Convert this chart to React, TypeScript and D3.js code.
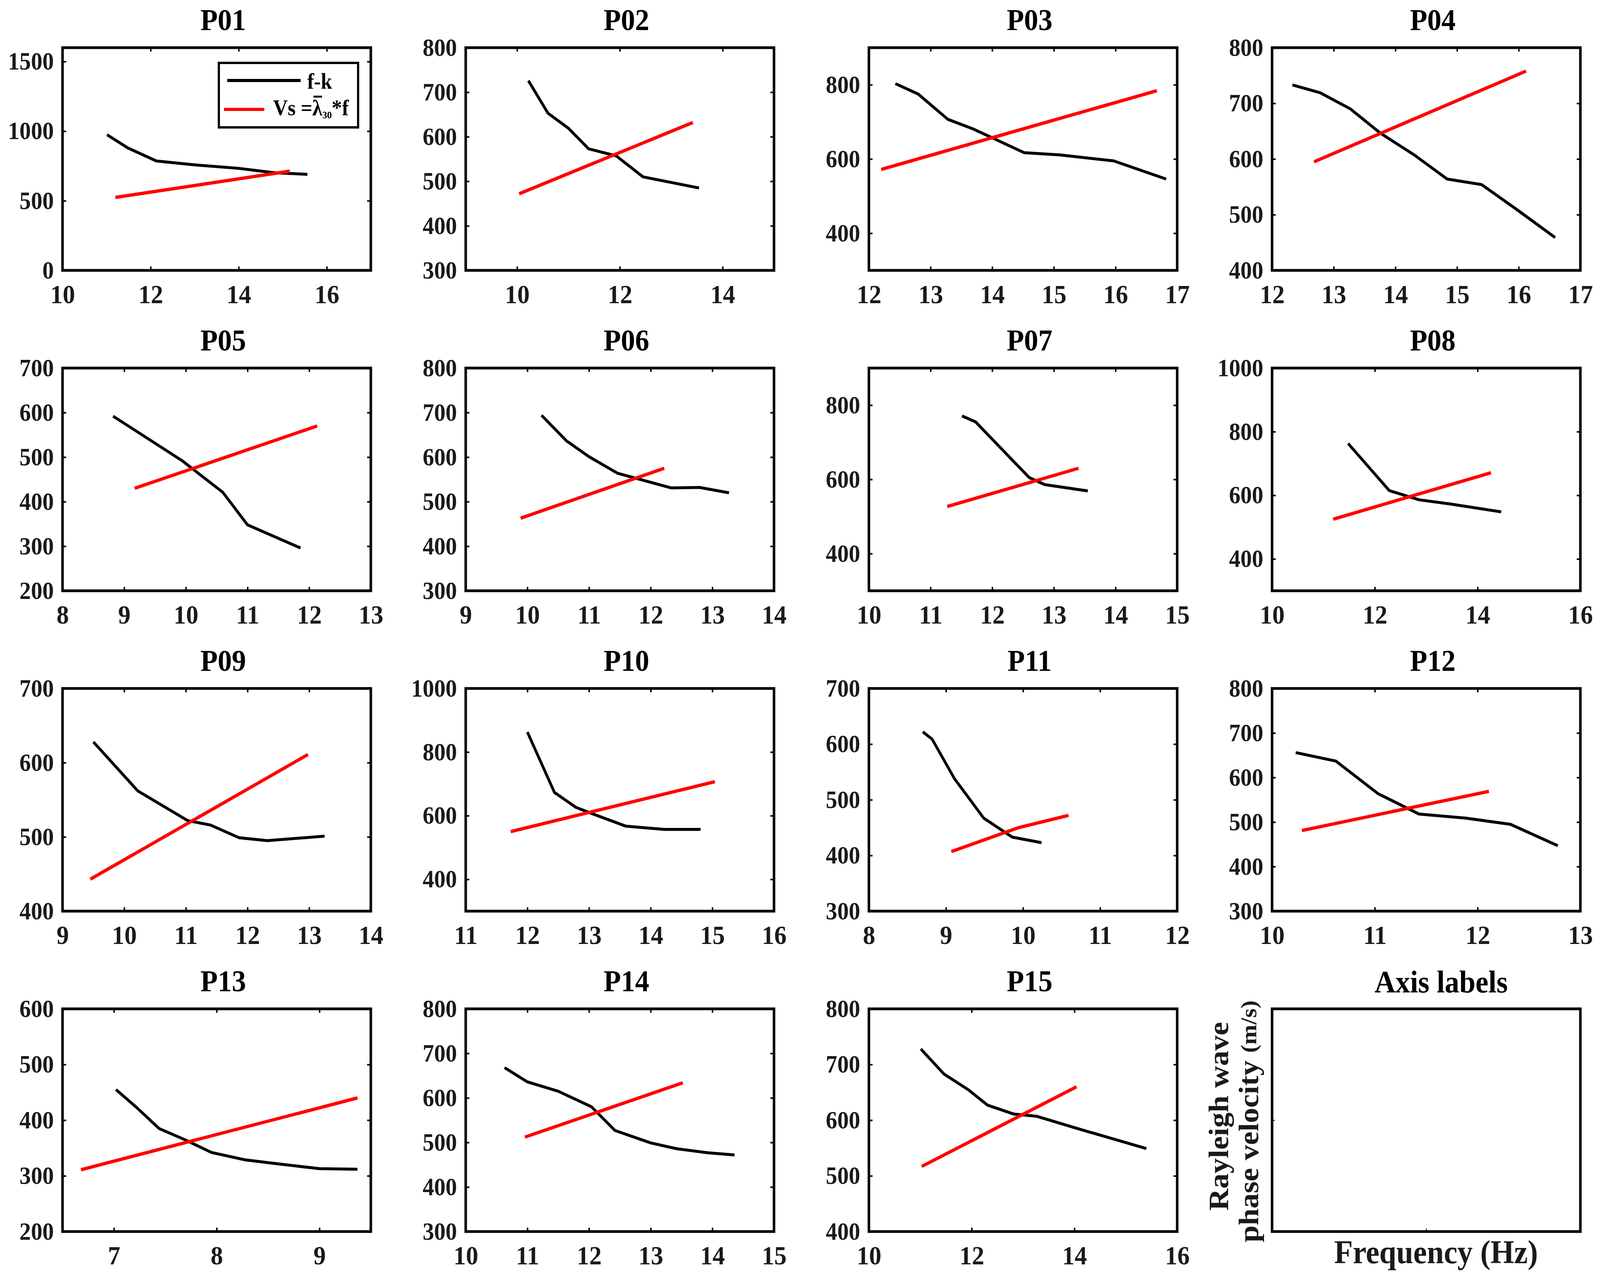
import React, { useEffect, useRef } from 'react'
import * as d3 from 'd3'

const panelNames = ['P01', 'P02', 'P03', 'P04', 'P05', 'P06', 'P07', 'P08', 'P09', 'P10', 'P11', 'P12', 'P13', 'P14', 'P15']

const xDomains: [number, number][] = [
  [10, 17], [9, 15], [12, 17], [12, 17],
  [8, 13], [9, 14], [10, 15], [10, 16],
  [9, 14], [11, 16], [8, 12], [10, 13],
  [6.5, 9.5], [10, 15], [10, 16],
]

const yDomains: [number, number][] = [
  [0, 1600], [300, 800], [300, 900], [400, 800],
  [200, 700], [300, 800], [300, 900], [300, 1000],
  [400, 700], [300, 1000], [300, 700], [300, 800],
  [200, 600], [300, 800], [400, 800],
]

const xTickValues = [
  [10, 12, 14, 16], [10, 12, 14], [12, 13, 14, 15, 16, 17], [12, 13, 14, 15, 16, 17],
  [8, 9, 10, 11, 12, 13], [9, 10, 11, 12, 13, 14], [10, 11, 12, 13, 14, 15], [10, 12, 14, 16],
  [9, 10, 11, 12, 13, 14], [11, 12, 13, 14, 15, 16], [8, 9, 10, 11, 12], [10, 11, 12, 13],
  [7, 8, 9], [10, 11, 12, 13, 14, 15], [10, 12, 14, 16],
]

const yTickValues = [
  [0, 500, 1000, 1500], [300, 400, 500, 600, 700, 800], [400, 600, 800], [400, 500, 600, 700, 800],
  [200, 300, 400, 500, 600, 700], [300, 400, 500, 600, 700, 800], [400, 600, 800], [400, 600, 800, 1000],
  [400, 500, 600, 700], [400, 600, 800, 1000], [300, 400, 500, 600, 700], [300, 400, 500, 600, 700, 800],
  [200, 300, 400, 500, 600], [300, 400, 500, 600, 700, 800], [400, 500, 600, 700, 800],
]

// f-k dispersion curves (frequency in Hz, phase velocity in m/s)
const fkFreq = [
  [11.01, 11.48, 12.13, 12.96, 14.0, 14.8, 15.56],
  [10.22, 10.6, 11.0, 11.39, 11.93, 12.45, 13.54],
  [12.43, 12.8, 13.28, 13.69, 14.52, 15.1, 15.97, 16.82],
  [12.33, 12.78, 13.27, 13.75, 14.31, 14.84, 15.4, 15.96, 16.59],
  [8.82, 9.94, 10.6, 11.0, 11.86],
  [10.23, 10.63, 11.0, 11.46, 12.33, 12.79, 13.27],
  [11.51, 11.73, 12.6, 12.85, 13.55],
  [11.48, 12.28, 12.86, 13.46, 14.46],
  [9.5, 10.22, 11.03, 11.4, 11.86, 12.32, 13.25],
  [12.0, 12.44, 12.79, 13.07, 13.6, 14.22, 14.81],
  [8.7, 8.82, 9.11, 9.49, 9.86, 10.24],
  [10.23, 10.62, 11.03, 11.43, 11.88, 12.32, 12.78],
  [7.02, 7.22, 7.44, 7.69, 7.95, 8.27, 8.62, 9.0, 9.37],
  [10.63, 11.0, 11.5, 12.04, 12.42, 13.0, 13.42, 13.92, 14.36],
  [11.01, 11.46, 11.93, 12.31, 12.82, 13.27, 14.06, 15.4],
]
const fkVel = [
  [975, 880, 786, 759, 733, 702, 690],
  [726, 653, 619, 573, 557, 510, 485],
  [803, 775, 707, 681, 617, 611, 595, 546],
  [733, 719, 690, 647, 607, 564, 554, 510, 459],
  [592, 492, 421, 348, 296],
  [694, 637, 601, 564, 531, 532, 520],
  [771, 755, 605, 586, 569],
  [763, 615, 586, 573, 548],
  [628, 562, 522, 516, 499, 495, 501],
  [863, 673, 626, 605, 567, 557, 557],
  [622, 609, 538, 467, 433, 423],
  [656, 637, 564, 518, 509, 495, 447],
  [455, 423, 385, 365, 342, 329, 321, 313, 312],
  [668, 636, 615, 580, 527, 499, 486, 477, 472],
  [728, 683, 655, 627, 611, 607, 585, 549],
]

// Vs = lambda30 * f lines
const vsFreq = [
  [11.2, 15.16], [10.04, 13.42], [12.2, 16.67], [12.68, 16.12],
  [9.17, 12.13], [9.89, 12.22], [11.27, 13.4], [11.19, 14.26],
  [9.45, 12.98], [11.73, 15.04], [9.07, 9.94, 10.59], [10.29, 12.11],
  [6.68, 9.37], [10.96, 13.52], [11.03, 14.04],
]
const vsVel = [
  [524, 713], [472, 632], [572, 784], [595, 758],
  [430, 570], [463, 575], [527, 630], [525, 671],
  [443, 611], [550, 707], [407, 450, 472], [481, 569],
  [311, 440], [512, 634], [517, 660],
]

const W = 4401
const H = 3276
const FONT = '"Liberation Serif", "Times New Roman", serif'

const App: React.FC = () => {
  const svgRef = useRef<SVGSVGElement | null>(null)

  useEffect(() => {
    if (!svgRef.current) return
    const svg = d3.select(svgRef.current)
    svg.selectAll('*').remove()

    const boxW = 848
    const boxH = 570
    const tick = 10
    const colLeft = (c: number) => 172 + c * 1109
    const rowTop = (r: number) => 122 + r * 820

    const styleAxis = (sel: d3.Selection<SVGGElement, unknown, null, undefined>, size: number) => {
      sel.select('.domain').remove()
      sel.selectAll('.tick line').attr('stroke', '#000').attr('stroke-width', 4)
      sel.selectAll('.tick text')
        .attr('fill', '#1a1a1a')
        .style('font-family', FONT)
        .style('font-weight', 'bold')
        .style('font-size', `${size}px`)
    }

    panelNames.forEach((name, i) => {
      const r = Math.floor(i / 4)
      const c = i % 4
      const g = svg.append('g').attr('transform', `translate(${colLeft(c)},${rowTop(r)})`)

      const x = d3.scaleLinear().domain(xDomains[i]).range([0, boxW])
      const y = d3.scaleLinear().domain(yDomains[i]).range([boxH, 0])
      const fmt = (d: d3.NumberValue) => String(d)

      const line = d3.line<[number, number]>().x(d => x(d[0])).y(d => y(d[1]))

      g.append('path')
        .datum(d3.zip(fkFreq[i], fkVel[i]) as [number, number][])
        .attr('d', line)
        .attr('fill', 'none')
        .attr('stroke', '#000')
        .attr('stroke-width', 7.5)
        .attr('stroke-linejoin', 'round')

      g.append('path')
        .datum(d3.zip(vsFreq[i], vsVel[i]) as [number, number][])
        .attr('d', line)
        .attr('fill', 'none')
        .attr('stroke', '#ff0000')
        .attr('stroke-width', 8.5)

      const left = g.append('g').call(d3.axisLeft(y).tickValues(yTickValues[i]).tickSize(-tick).tickPadding(24).tickFormat(fmt))
      styleAxis(left, 63)
      const right = g.append('g').attr('transform', `translate(${boxW},0)`)
        .call(d3.axisRight(y).tickValues(yTickValues[i]).tickSize(-tick).tickFormat(() => ''))
      styleAxis(right, 63)
      const bottom = g.append('g').attr('transform', `translate(0,${boxH})`)
        .call(d3.axisBottom(x).tickValues(xTickValues[i]).tickSize(-tick).tickPadding(36).tickFormat(fmt))
      styleAxis(bottom, 68)
      const top = g.append('g')
        .call(d3.axisTop(x).tickValues(xTickValues[i]).tickSize(-tick).tickFormat(() => ''))
      styleAxis(top, 68)

      g.append('rect')
        .attr('width', boxW).attr('height', boxH)
        .attr('fill', 'none').attr('stroke', '#000').attr('stroke-width', 7)

      g.append('text')
        .attr('x', boxW / 2 + 18).attr('y', -45)
        .attr('text-anchor', 'middle')
        .style('font-family', FONT).style('font-weight', 'bold').style('font-size', '78px')
        .text(name)

      if (i === 0) {
        const lg = g.append('g').attr('transform', 'translate(430,39)')
        lg.append('rect').attr('width', 383).attr('height', 165)
          .attr('fill', '#fff').attr('stroke', '#000').attr('stroke-width', 6)
        lg.append('line').attr('x1', 23).attr('x2', 225).attr('y1', 45).attr('y2', 45)
          .attr('stroke', '#000').attr('stroke-width', 8)
        lg.append('text').attr('x', 243).attr('y', 66)
          .style('font-family', FONT).style('font-weight', 'bold').style('font-size', '56px')
          .text('f-k')
        lg.append('line').attr('x1', 14).attr('x2', 125).attr('y1', 119).attr('y2', 119)
          .attr('stroke', '#ff0000').attr('stroke-width', 8)
        const vt = lg.append('text').attr('x', 149).attr('y', 134)
          .style('font-family', FONT).style('font-weight', 'bold').style('font-size', '56px')
        vt.append('tspan').text('Vs =λ')
        vt.append('tspan').attr('dy', 8).style('font-size', '26px').text('30')
        vt.append('tspan').attr('dy', -8).text('*f')
        const node = vt.node() as SVGTextElement
        try {
          const ext = node.getExtentOfChar(4)
          lg.append('line')
            .attr('x1', ext.x + 3).attr('x2', ext.x + ext.width - 1)
            .attr('y1', ext.y + 2).attr('y2', ext.y + 2)
            .attr('stroke', '#000').attr('stroke-width', 5)
        } catch (e) {
          // measurement not available
        }
      }
    })

    // last panel: axis labels
    const g = svg.append('g').attr('transform', `translate(${colLeft(3)},${rowTop(3)})`)
    const x = d3.scaleLinear().domain([0, 1]).range([0, boxW])
    const y = d3.scaleLinear().domain([0, 1]).range([boxH, 0])
    const left = g.append('g').call(d3.axisLeft(y).tickValues([0.5]).tickSize(-8).tickFormat(() => ''))
    left.select('.domain').remove()
    left.selectAll('.tick line').attr('stroke', '#000').attr('stroke-width', 2)
    const bottom = g.append('g').attr('transform', `translate(0,${boxH})`)
      .call(d3.axisBottom(x).tickValues([0.5]).tickSize(-8).tickFormat(() => ''))
    bottom.select('.domain').remove()
    bottom.selectAll('.tick line').attr('stroke', '#000').attr('stroke-width', 2)
    g.append('rect')
      .attr('width', boxW).attr('height', boxH)
      .attr('fill', 'none').attr('stroke', '#000').attr('stroke-width', 7)
    g.append('text')
      .attr('x', boxW / 2 + 41).attr('y', -42)
      .attr('text-anchor', 'middle')
      .style('font-family', FONT).style('font-weight', 'bold').style('font-size', '80px')
      .text('Axis labels')
    g.append('text')
      .attr('x', boxW / 2 + 27).attr('y', 651)
      .attr('text-anchor', 'middle')
      .attr('fill', '#1a1a1a')
      .style('font-family', FONT).style('font-weight', 'bold').style('font-size', '84px')
      .text('Frequency (Hz)')
    g.append('text')
      .attr('transform', 'translate(-121,275) rotate(-90)')
      .attr('text-anchor', 'middle')
      .attr('fill', '#1a1a1a')
      .style('font-family', FONT).style('font-weight', 'bold').style('font-size', '78px')
      .text('Rayleigh wave')
    const yl2 = g.append('text')
      .attr('transform', 'translate(-38,288) rotate(-90)')
      .attr('text-anchor', 'middle')
      .attr('fill', '#1a1a1a')
      .style('font-family', FONT).style('font-weight', 'bold').style('font-size', '78px')
    yl2.append('tspan').text('phase velocity ')
    yl2.append('tspan').style('font-size', '62px').attr('dy', -6).text('(m/s)')
  }, [])

  return (
    <svg
      ref={svgRef}
      viewBox={`0 0 ${W} ${H}`}
      preserveAspectRatio="none"
      style={{ position: 'fixed', left: 0, top: 0, width: '100vw', height: '100vh', background: '#fff' }}
    />
  )
}

export default App
